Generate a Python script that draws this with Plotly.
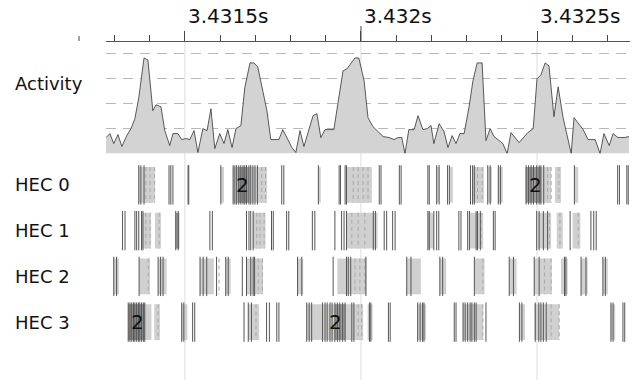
import plotly.graph_objects as go

# ---------------- data (times in microseconds after 3.431 s) ----------------
T0 = 3.431
act_t = [276, 287, 298, 310, 321, 335, 347, 358, 369, 384, 395, 409, 418, 432, 443, 457, 466, 480, 491,
         503, 514, 526, 537, 551, 563, 574, 585, 599, 611, 622, 634, 645, 659, 670, 685, 696, 707, 733,
         744, 767, 778, 790, 804, 815, 827, 838, 849, 864, 875, 886, 898, 923, 949, 960, 983, 994, 1009,
         1020, 1034, 1063, 1080, 1094, 1105, 1116, 1125, 1136, 1151, 1162, 1176, 1188, 1199, 1207, 1222,
         1236, 1247, 1259, 1270, 1281, 1293, 1307, 1318, 1330, 1344, 1355, 1367, 1378, 1403, 1415, 1426,
         1449, 1474, 1489, 1500, 1511, 1523, 1534, 1548, 1560, 1574, 1597, 1605, 1631, 1645, 1665, 1679,
         1690, 1705, 1716, 1730, 1747, 1761]
act_v = [0.64, 0.8, 0.4, 0.76, 0.28, 0.72, 1.0, 1.4, 2.24, 3.84, 3.76, 1.72, 1.96, 1.88, 0.92, 0.32, 0.8,
         0.8, 0.56, 0.6, 0.56, 0.92, 0.04, 1.0, 0.92, 1.8, 0.2, 0.8, 0.4, 0.96, 0.24, 1.0, 1.12, 2.64,
         3.64, 3.64, 3.48, 1.72, 0.56, 0.56, 0.96, 0.64, 0.24, 0.04, 0.92, 0.28, 0.84, 1.52, 1.6, 0.64,
         0.96, 0.96, 3.32, 3.4, 3.84, 3.84, 2.92, 1.44, 1.08, 0.68, 0.64, 0.56, 0.64, 0.64, 0.0, 0.96,
         0.96, 1.52, 0.96, 1.0, 1.12, 0.4, 1.2, 0.88, 0.24, 0.72, 0.4, 0.8, 0.8, 1.88, 2.92, 3.64, 3.64,
         0.52, 1.0, 0.68, 0.4, 0.0, 0.84, 0.44, 0.84, 1.0, 3.0, 3.16, 3.64, 3.52, 1.48, 2.68, 1.44, 0.0,
         1.44, 0.96, 0.56, 0.56, 0.0, 0.8, 0.32, 0.8, 0.64, 0.64, 0.68]

hec_names = ["HEC 0", "HEC 1", "HEC 2", "HEC 3"]

hec_boxes = [
    [(369, 415), (602, 611), (636, 733), (878, 886), (960, 1031), (1216, 1222), (1253, 1261),
     (1318, 1349), (1361, 1372), (1389, 1403), (1466, 1540), (1551, 1568), (1605, 1617)],
    [(376, 404), (415, 432), (474, 484), (692, 729), (959, 1047), (1190, 1207), (1308, 1347),
     (1502, 1540), (1556, 1573), (1601, 1623)],
    [(298, 313), (370, 401), (424, 448), (543, 582), (616, 630), (675, 722), (820, 836), (933, 1016),
     (1130, 1170), (1224, 1242), (1322, 1351), (1421, 1442), (1492, 1542), (1568, 1587), (1625, 1644),
     (1687, 1701)],
    [(339, 405), (413, 429), (491, 507), (680, 711), (846, 884), (884, 1006), (1019, 1033), (1161, 1185),
     (1289, 1347), (1450, 1466), (1492, 1563), (1708, 1722)],
]
hec_dense = [
    [(650, 682), (1469, 1511)],
    [(474, 484)],
    [],
    [(339, 386), (926, 955)],
]
hec_events = [
    [369, 375, 384, 455, 460, 466, 509, 511, 602, 637, 642, 647, 653, 659, 665, 670, 675, 682, 687, 693,
     699, 706, 775, 781, 879, 938, 942, 955, 959, 1052, 1057, 1109, 1114, 1190, 1194, 1215, 1222, 1246,
     1251, 1311, 1317, 1322, 1360, 1367, 1390, 1396, 1469, 1476, 1483, 1490, 1499, 1506, 1511, 1519,
     1606, 1729, 1734, 1755, 1759],
    [323, 330, 358, 363, 369, 377, 381, 474, 481, 571, 578, 675, 682, 687, 694, 746, 751, 789, 795, 862,
     869, 926, 945, 952, 959, 1035, 1041, 1066, 1073, 1090, 1097, 1190, 1194, 1207, 1215, 1221, 1278,
     1284, 1303, 1308, 1327, 1331, 1339, 1376, 1381, 1499, 1506, 1518, 1530, 1594, 1653, 1661, 1668],
    [298, 306, 370, 424, 431, 438, 543, 552, 562, 590, 616, 623, 663, 675, 687, 694, 698, 820, 832, 921,
     959, 964, 971, 1014, 1130, 1142, 1224, 1232, 1322, 1421, 1433, 1492, 1506, 1578, 1582, 1625, 1639,
     1687, 1694],
    [339, 344, 349, 354, 358, 363, 368, 372, 377, 382, 386, 491, 497, 522, 528, 668, 680, 689, 732, 740,
     761, 767, 846, 853, 860, 891, 898, 904, 912, 918, 926, 933, 940, 948, 955, 974, 980, 1024, 1028,
     1078, 1083, 1161, 1168, 1175, 1179, 1265, 1270, 1290, 1296, 1303, 1310, 1315, 1322, 1327, 1355,
     1450, 1457, 1495, 1505, 1511, 1518, 1526, 1710, 1716, 1744, 1749],
]
hec_dashed = [
    [389, 401, 414, 718, 729, 978, 992, 1006, 1020, 1331, 1344, 1530, 1540, 1562],
    [389, 401, 427, 704, 713, 725, 974, 992, 1011, 1341, 1535, 1565, 1617],
    [396, 597, 708, 720, 983, 997, 1011, 1346, 1521, 1540],
    [424, 702, 992, 1002, 1346, 1540, 1563],
]
hec_counts = [[(665, "2"), (1497, "2")], [], [], [(366, "2"), (929, "2")]]

tick_vals_us = [500, 1000, 1500]
tick_labels = ["3.4315s", "3.432s", "3.4325s"]
x_range_us = [276, 1764]

# ---------------- figure ----------------
W, H = 636, 380
def py(px):
    return 1 - px / H

def sec(us):
    return T0 + us * 1e-6

FONT = "DejaVu Sans"
fig = go.Figure()

fig.add_trace(go.Scatter(
    x=[sec(t) for t in act_t], y=act_v, mode="lines", fill="tozeroy",
    fillcolor="#d3d3d3", line=dict(color="#333333", width=0.8), hoverinfo="skip",
    xaxis="x", yaxis="y"))

BH, LH = 0.39, 0.43
for r in range(len(hec_names)):
    for boxes, col in ((hec_boxes[r], "#d0d0d0"), (hec_dense[r], "#9a9a9a")):
        xs, ys = [], []
        for s, e in boxes:
            xs += [sec(s), sec(e), sec(e), sec(s), sec(s), None]
            ys += [r - BH, r - BH, r + BH, r + BH, r - BH, None]
        if xs:
            fig.add_trace(go.Scatter(x=xs, y=ys, mode="lines", fill="toself", fillcolor=col,
                                     line=dict(width=0), hoverinfo="skip", yaxis="y2"))
    xs, ys = [], []
    for t in hec_dashed[r]:
        xs += [sec(t), sec(t), None]
        ys += [r - BH, r + BH, None]
    fig.add_trace(go.Scatter(x=xs, y=ys, mode="lines",
                             line=dict(color="#a8a8a8", width=1, dash="4px,3px"),
                             hoverinfo="skip", yaxis="y2"))
    xs, ys = [], []
    for t in hec_events[r]:
        xs += [sec(t), sec(t), None]
        ys += [r - LH, r + LH, None]
    fig.add_trace(go.Scatter(x=xs, y=ys, mode="lines", line=dict(color="#555555", width=1),
                             hoverinfo="skip", yaxis="y2"))

annotations = []
for r, name in enumerate(hec_names):
    annotations.append(dict(text=name, x=13 / W, xref="paper", xanchor="left", y=r, yref="y2",
                            yanchor="middle", showarrow=False, font=dict(size=18, color="#111", family=FONT)))
    for t, txt in hec_counts[r]:
        annotations.append(dict(text=txt, x=sec(t), xref="x", y=r, yref="y2", showarrow=False,
                                xanchor="center", yanchor="middle",
                                font=dict(size=20, color="#111", family=FONT)))
annotations.append(dict(text="Activity", x=13 / W, xref="paper", xanchor="left", y=py(83), yref="paper",
                        yanchor="middle", showarrow=False, font=dict(size=18, color="#111", family=FONT)))
for v, lab in zip(tick_vals_us, tick_labels):
    annotations.append(dict(text=lab, x=sec(v), xref="x", xanchor="left", xshift=1, y=py(16), yref="paper",
                            yanchor="middle", showarrow=False, font=dict(size=20, color="#111", family=FONT)))

shapes = []
for v in tick_vals_us:
    shapes.append(dict(type="line", xref="x", yref="paper", x0=sec(v), x1=sec(v), y0=0, y1=py(41),
                       line=dict(color="#dddddd", width=1), layer="below"))
# longer tick at the whole-millisecond mark
shapes.append(dict(type="line", xref="x", yref="paper", x0=sec(1000), x1=sec(1000), y0=py(41), y1=py(26),
                   line=dict(color="#444444", width=1)))
# small tick of the label column
shapes.append(dict(type="line", xref="paper", yref="paper", x0=79 / W, x1=79 / W, y0=py(41), y1=py(36),
                   line=dict(color="#444444", width=1)))

fig.update_layout(
    width=W, height=H, margin=dict(l=0, r=0, t=0, b=0),
    paper_bgcolor="white", plot_bgcolor="white", showlegend=False,
    font=dict(family=FONT, color="#111"),
    xaxis=dict(range=[sec(x_range_us[0]), sec(x_range_us[1])], domain=[106 / W, 630 / W],
               side="top", anchor="free", position=py(41), showline=True, linecolor="#555555",
               linewidth=1, ticks="outside", ticklen=10, tickcolor="#444444", tickwidth=1,
               tickmode="linear", tick0=T0, dtick=0.0005, showticklabels=False, showgrid=False,
               zeroline=False,
               minor=dict(ticks="outside", ticklen=6, tickcolor="#444444", tickwidth=1,
                          tickmode="linear", tick0=T0, dtick=0.0001, showgrid=False)),
    yaxis=dict(domain=[py(153.5), py(44)], range=[0, 4.4], tickvals=[1, 2, 3, 4],
               showticklabels=False, showgrid=True, gridcolor="#b8b8b8", griddash="10px,7px",
               gridwidth=1, zeroline=False, showline=False, ticks=""),
    yaxis2=dict(domain=[py(345), py(162)], range=[3.5, -0.5], showgrid=False, zeroline=False,
                showticklabels=False, showline=False, ticks=""),
    annotations=annotations, shapes=shapes,
)

fig.write_html("out.html", config={"displayModeBar": False},
               post_script="document.body.style.margin='0';document.body.style.overflow='hidden';")
